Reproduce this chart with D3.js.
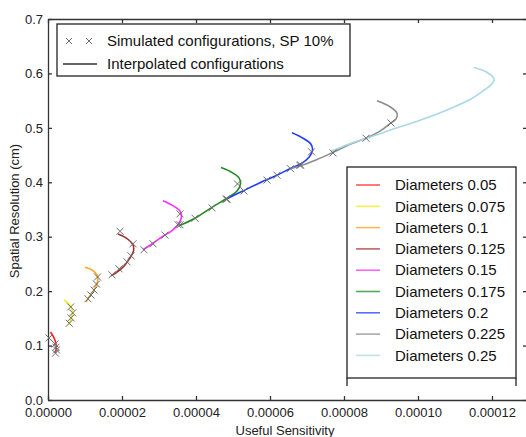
<!DOCTYPE html>
<html lang="en-US">
<head>
<meta charset="UTF-8">
<title>Spatial resolution vs useful sensitivity</title>
<script src="https://d3js.org/d3.v7.min.js"></script>
<style>
  body { margin: 0; background: #fff; }
  svg { font-family: "Liberation Sans", Arial, sans-serif; }
  .axis path, .axis line { stroke: #333; stroke-width: 1.3px; }
  .axis text { font-size: 13px; fill: #222; font-family: "Liberation Sans", Arial, sans-serif; }
  .curve { fill: none; stroke-width: 1.6px; }
  .sim { stroke: #6e6e6e; stroke-width: 1px; }
</style>
</head>
<body>
<script>

// diameters and their colours
var diameters = ["0.05", "0.075", "0.1", "0.125", "0.15", "0.175", "0.2", "0.225", "0.25"];
var colors = ["#ff1f1f", "#f2ee10", "#ffa31a", "#a3302c", "#ff2eff", "#1f8c1f", "#1f3dff", "#8c8c8c", "#a9d8e6"];

// interpolated curves (useful sensitivity, spatial resolution cm)
var curveX = [
  [0.68e-6, 1.49e-6, 2.11e-6, 2.24e-6, 2.03e-6],
  [4.32e-6, 5.41e-6, 6.22e-6, 6.62e-6, 6.35e-6, 5.68e-6],
  [10.0e-6, 11.89e-6, 13.38e-6, 13.38e-6, 12.43e-6, 11.08e-6, 10.27e-6],
  [18.92e-6, 21.08e-6, 22.97e-6, 23.11e-6, 22.16e-6, 20.54e-6, 18.65e-6, 17.03e-6],
  [31.08e-6, 33.51e-6, 35.68e-6, 36.08e-6, 35.14e-6, 33.24e-6, 31.08e-6, 28.38e-6, 25.68e-6],
  [46.76e-6, 49.46e-6, 51.62e-6, 52.03e-6, 51.08e-6, 48.92e-6, 44.32e-6, 39.73e-6, 35.41e-6],
  [65.95e-6, 68.92e-6, 71.08e-6, 71.49e-6, 70.54e-6, 68.38e-6, 65.41e-6, 61.89e-6, 59.19e-6, 52.97e-6, 48.11e-6],
  [88.92e-6, 92.16e-6, 94.32e-6, 94.05e-6, 92.70e-6, 89.73e-6, 85.95e-6, 81.62e-6, 77.03e-6, 72.43e-6, 68.11e-6, 65.41e-6],
  [115.14e-6, 118.38e-6, 120.54e-6, 119.9e-6, 118.0e-6, 114.3e-6, 107.84e-6, 100.54e-6, 94.32e-6, 86.22e-6, 81.62e-6, 76.49e-6]
];
var curveY = [
  [0.125, 0.116, 0.105, 0.0955, 0.0864],
  [0.184, 0.178, 0.171, 0.162, 0.151, 0.138],
  [0.244, 0.239, 0.228, 0.217, 0.202, 0.189, 0.180],
  [0.305, 0.298, 0.285, 0.274, 0.261, 0.246, 0.235, 0.228],
  [0.366, 0.358, 0.347, 0.336, 0.322, 0.310, 0.301, 0.288, 0.276],
  [0.427, 0.419, 0.408, 0.397, 0.384, 0.373, 0.354, 0.334, 0.320],
  [0.491, 0.481, 0.470, 0.459, 0.446, 0.434, 0.425, 0.413, 0.405, 0.385, 0.369],
  [0.550, 0.540, 0.527, 0.516, 0.509, 0.494, 0.481, 0.470, 0.455, 0.441, 0.430, 0.425],
  [0.611, 0.603, 0.590, 0.580, 0.570, 0.553, 0.533, 0.514, 0.500, 0.481, 0.471, 0.457]
];

// simulated configurations, SP 10%
var simX = [
  [0.27e-6, 1.89e-6, 2.16e-6, 2.30e-6, 2.03e-6],
  [6.14e-6, 6.68e-6, 6.22e-6, 5.76e-6],
  [13.38e-6, 13.11e-6, 12.43e-6, 11.62e-6, 10.81e-6],
  [19.46e-6, 22.97e-6, 22.43e-6, 21.35e-6, 19.19e-6, 17.30e-6],
  [35.68e-6, 35.14e-6, 31.62e-6, 28.38e-6, 25.95e-6],
  [51.22e-6, 48.11e-6, 44.32e-6, 39.73e-6, 35.68e-6],
  [71.22e-6, 68.24e-6, 65.54e-6, 61.89e-6, 59.19e-6, 52.97e-6, 48.38e-6],
  [92.70e-6, 85.95e-6, 77.03e-6, 68.11e-6],
  []
];
var simY = [
  [0.114, 0.103, 0.097, 0.092, 0.086],
  [0.171, 0.160, 0.151, 0.141],
  [0.226, 0.213, 0.202, 0.193, 0.186],
  [0.310, 0.287, 0.265, 0.254, 0.241, 0.230],
  [0.342, 0.322, 0.303, 0.287, 0.276],
  [0.397, 0.369, 0.353, 0.334, 0.322],
  [0.456, 0.432, 0.425, 0.413, 0.404, 0.384, 0.369],
  [0.509, 0.481, 0.454, 0.431],
  []
];

var xTicks = [0, 0.00002, 0.00004, 0.00006, 0.00008, 0.00010, 0.00012];
var yTicks = [0, 0.1, 0.2, 0.3, 0.4, 0.5, 0.6, 0.7];

var width = 526, height = 437;
var plot = {left: 48, right: 527, top: 19, bottom: 400};

var x = d3.scaleLinear().domain([0, 0.00012946]).range([plot.left, plot.right]);
var y = d3.scaleLinear().domain([0, 0.7]).range([plot.bottom, plot.top]);

var svg = d3.select("body").append("svg")
    .attr("width", width)
    .attr("height", height);

// frame with inward ticks
svg.append("g")
    .attr("class", "axis")
    .attr("transform", "translate(0," + plot.bottom + ")")
    .call(d3.axisBottom(x).tickValues(xTicks).tickFormat(d3.format(".5f"))
      .tickSizeInner(-4).tickSizeOuter(0).tickPadding(8));

svg.append("g")
    .attr("class", "axis")
    .attr("transform", "translate(0," + plot.top + ")")
    .call(d3.axisTop(x).tickValues(xTicks).tickFormat("")
      .tickSizeInner(-4).tickSizeOuter(0));

svg.append("g")
    .attr("class", "axis")
    .attr("transform", "translate(" + plot.left + ",0)")
    .call(d3.axisLeft(y).tickValues(yTicks).tickFormat(d3.format(".1f"))
      .tickSizeInner(-4).tickSizeOuter(0).tickPadding(5));

svg.append("g")
    .attr("class", "axis")
    .attr("transform", "translate(" + plot.right + ",0)")
    .call(d3.axisRight(y).tickValues(yTicks).tickFormat("")
      .tickSizeInner(-4).tickSizeOuter(0));

// axis titles
svg.append("text")
    .attr("x", 285)
    .attr("y", 435)
    .style("text-anchor", "middle")
    .style("font-size", "13px")
    .style("fill", "#222")
    .text("Useful Sensitivity");

svg.append("text")
    .attr("transform", "translate(19,211) rotate(-90)")
    .style("text-anchor", "middle")
    .style("font-size", "13px")
    .style("fill", "#222")
    .text("Spatial Resolution (cm)");

// curves
var line = d3.line()
    .x(function(d) { return x(d[0]); })
    .y(function(d) { return y(d[1]); })
    .curve(d3.curveCatmullRom.alpha(0.5));

diameters.forEach(function(dia, i) {
  var pts = d3.zip(curveX[i], curveY[i]);
  svg.append("path")
      .datum(pts)
      .attr("class", "curve")
      .attr("stroke", colors[i])
      .attr("d", line);
});

// crosses for simulated points
function cross(g, cx, cy, r) {
  g.append("path")
      .attr("class", "sim")
      .attr("d", "M" + (cx - r) + "," + (cy - r) + "L" + (cx + r) + "," + (cy + r) +
                 "M" + (cx - r) + "," + (cy + r) + "L" + (cx + r) + "," + (cy - r));
}

var simG = svg.append("g");
diameters.forEach(function(dia, i) {
  simX[i].forEach(function(v, j) {
    cross(simG, x(v), y(simY[i][j]), 3.5);
  });
});

// legend: markers
var leg1 = svg.append("g");
leg1.append("rect")
    .attr("x", 57).attr("y", 24)
    .attr("width", 293).attr("height", 52)
    .attr("fill", "#fff").attr("stroke", "#222").attr("stroke-width", 1.3);
cross(leg1, 69, 41, 3);
cross(leg1, 89, 41, 3);
leg1.append("text")
    .attr("x", 107).attr("y", 41).attr("dy", "0.35em")
    .style("font-size", "15px").style("fill", "#111")
    .text("Simulated configurations, SP 10%");
leg1.append("line")
    .attr("x1", 63).attr("x2", 97).attr("y1", 64).attr("y2", 64)
    .attr("stroke", "#333").attr("stroke-width", 1.3);
leg1.append("text")
    .attr("x", 107).attr("y", 64).attr("dy", "0.35em")
    .style("font-size", "15px").style("fill", "#111")
    .text("Interpolated configurations");

// legend: diameters
var leg2 = svg.append("g");
leg2.append("rect")
    .attr("x", 347).attr("y", 167)
    .attr("width", 169).attr("height", 211)
    .attr("fill", "#fff").attr("stroke", "#222").attr("stroke-width", 1.3);
[347, 516].forEach(function(lx) {
  leg2.append("line")
      .attr("x1", lx).attr("x2", lx).attr("y1", 378).attr("y2", 386)
      .attr("stroke", "#222").attr("stroke-width", 1.3);
});

var rows = leg2.selectAll("g.row")
    .data(diameters)
  .enter().append("g")
    .attr("class", "row")
    .attr("transform", function(d, i) { return "translate(0," + (185 + i * 21.3) + ")"; });

rows.append("line")
    .attr("x1", 356).attr("x2", 380)
    .attr("stroke", function(d, i) { return colors[i]; })
    .attr("stroke-width", 1.6)
    .attr("stroke-opacity", 0.75);

rows.append("text")
    .attr("x", 395).attr("dy", "0.35em")
    .style("font-size", "15px").style("fill", "#111")
    .text(function(d) { return "Diameters " + d; });

</script>
</body>
</html>
